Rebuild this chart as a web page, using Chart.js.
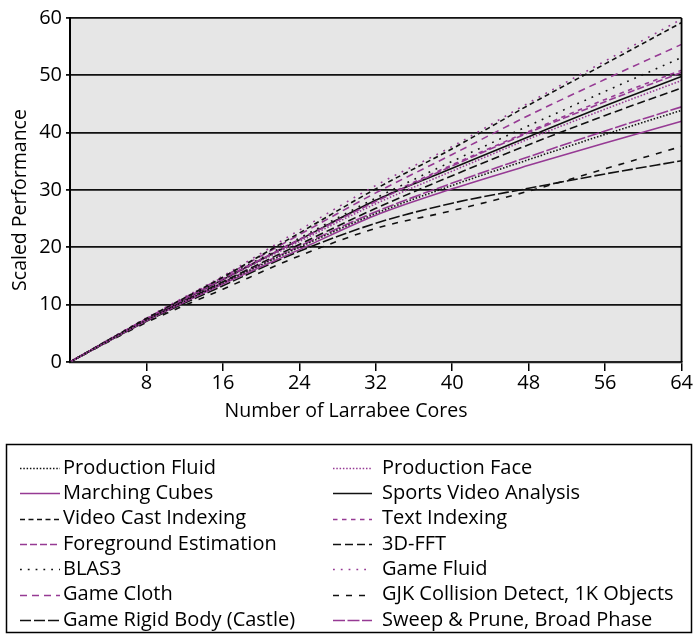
<!DOCTYPE html>
<html><head><meta charset="utf-8">
<script src="https://cdn.jsdelivr.net/npm/chart.js@4.4.0/dist/chart.umd.min.js"></script>
<style>html,body{margin:0;padding:0;background:#fff}#wrap{width:693px;height:638px}</style>
</head><body><div id="wrap"><canvas id="c" width="693" height="638"></canvas></div>
<script>
const cores = [0, 8, 16, 24, 32, 40, 48, 56, 64];
const xTicks = [8, 16, 24, 32, 40, 48, 56, 64];
const yTicks = [0, 10, 20, 30, 40, 50, 60];

const productionFluid      = [0, 7.3, 13.8, 20.0, 25.9, 30.8, 35.3, 39.7, 43.9];
const marchingCubes        = [0, 7.2, 13.6, 19.6, 25.6, 30.2, 34.3, 38.2, 42.0];
const videoCastIndexing    = [0, 7.6, 14.8, 22.5, 30.2, 37.2, 44.8, 52.0, 59.2];
const foregroundEstimation = [0, 7.5, 14.5, 21.3, 28.0, 34.2, 40.0, 45.4, 50.5];
const blas3                = [0, 7.5, 14.6, 21.6, 28.6, 35.0, 41.2, 47.2, 53.1];
const gameCloth            = [0, 7.6, 14.8, 22.2, 29.5, 36.2, 43.0, 49.3, 55.4];
const gameRigidBody        = [0, 7.1, 13.3, 19.3, 24.2, 27.7, 30.3, 32.8, 35.1];
const productionFace       = [0, 7.4, 14.3, 21.0, 27.6, 33.3, 38.9, 44.1, 49.1];
const sportsVideoAnalysis  = [0, 7.4, 14.4, 21.3, 28.2, 33.8, 39.3, 44.7, 49.8];
const textIndexing         = [0, 7.5, 14.5, 21.4, 28.2, 34.4, 40.2, 45.8, 50.9];
const fft3d                = [0, 7.3, 14.0, 20.5, 26.8, 32.5, 37.9, 43.0, 47.8];
const gameFluid            = [0, 7.7, 15.0, 23.0, 30.8, 37.6, 45.2, 52.5, 59.8];
const gjkCollision         = [0, 6.9, 12.7, 18.5, 23.3, 26.4, 29.8, 33.7, 37.6];
const sweepPrune           = [0, 7.3, 13.9, 20.2, 26.2, 31.2, 35.8, 40.3, 44.5];

const seriesNames = [
  'Production Fluid', 'Marching Cubes', 'Video Cast Indexing', 'Foreground Estimation',
  'BLAS3', 'Game Cloth', 'Game Rigid Body (Castle)',
  'Production Face', 'Sports Video Analysis', 'Text Indexing', '3D-FFT',
  'Game Fluid', 'GJK Collision Detect, 1K Objects', 'Sweep & Prune, Broad Phase'
];
const seriesValues = [
  productionFluid, marchingCubes, videoCastIndexing, foregroundEstimation,
  blas3, gameCloth, gameRigidBody,
  productionFace, sportsVideoAnalysis, textIndexing, fft3d,
  gameFluid, gjkCollision, sweepPrune
];

const BLK = '#111111', PUR = '#963a94';
const styles = [
  {c: BLK, d: [1.5, 1.8]},
  {c: PUR, d: []},
  {c: BLK, d: [5, 3.5]},
  {c: PUR, d: [7, 3]},
  {c: BLK, d: [1.8, 6]},
  {c: PUR, d: [7, 5]},
  {c: BLK, d: [11, 3]},
  {c: PUR, d: [1.5, 1.8]},
  {c: BLK, d: []},
  {c: PUR, d: [4.5, 4.5]},
  {c: BLK, d: [8, 4]},
  {c: PUR, d: [1.8, 6]},
  {c: BLK, d: [6, 7]},
  {c: PUR, d: [12, 2.5]}
];

const FONT = '"Open Sans", Lato, sans-serif';

const datasets = seriesNames.map((name, i) => ({
  label: name,
  data: cores.map((x, j) => ({x: x, y: seriesValues[i][j]})),
  borderColor: styles[i].c,
  borderDash: styles[i].d,
  borderWidth: 1.6,
  pointRadius: 0,
  fill: false,
  cubicInterpolationMode: 'monotone'
}));

const frame = {
  id: 'frame',
  beforeDraw(chart) {
    const {ctx, chartArea: a} = chart;
    ctx.save();
    ctx.fillStyle = '#fff';
    ctx.fillRect(0, 0, chart.width, chart.height);
    ctx.fillStyle = '#e6e6e6';
    ctx.fillRect(a.left, a.top, a.right - a.left, a.bottom - a.top);
    ctx.restore();
  },
  afterDraw(chart) {
    const {ctx, chartArea: a} = chart;
    ctx.save();
    ctx.strokeStyle = '#000';
    ctx.lineWidth = 1.8;
    ctx.beginPath();
    ctx.moveTo(a.right, a.top);
    ctx.lineTo(a.right, a.bottom);
    ctx.stroke();
    // axis titles
    ctx.fillStyle = '#000';
    ctx.font = '19.5px ' + FONT;
    ctx.textAlign = 'center';
    ctx.textBaseline = 'middle';
    ctx.fillText('Number of Larrabee Cores', 346, 411);
    ctx.save();
    ctx.translate(20, 200);
    ctx.rotate(-Math.PI / 2);
    ctx.fillText('Scaled Performance', 0, 0);
    ctx.restore();
    // legend
    ctx.textAlign = 'left';
    ctx.font = '20px ' + FONT;
    ctx.lineWidth = 1.5;
    ctx.strokeRect(6.5, 444.5, 685, 188);
    chart.data.datasets.forEach((ds, i) => {
      const col = i < 7 ? 0 : 1;
      const row = i % 7;
      const y = 468 + row * 25.3;
      const x0 = col === 0 ? 20 : 333;
      const x1 = col === 0 ? 60 : 372;
      const tx = col === 0 ? 63 : 382;
      ctx.save();
      ctx.strokeStyle = ds.borderColor;
      ctx.lineWidth = 1.5;
      ctx.setLineDash(ds.borderDash);
      ctx.beginPath();
      ctx.moveTo(x0, Math.round(y) + 0.5);
      ctx.lineTo(x1, Math.round(y) + 0.5);
      ctx.stroke();
      ctx.restore();
      ctx.fillText(ds.label, tx, y);
    });
    ctx.restore();
  }
};

new Chart(document.getElementById('c'), {
  type: 'line',
  data: {datasets},
  options: {
    responsive: false,
    animation: false,
    devicePixelRatio: 1,
    layout: {padding: {top: 18, right: 11, bottom: 214, left: 0}},
    plugins: {legend: {display: false}, tooltip: {enabled: false}},
    scales: {
      x: {
        type: 'linear', min: 0, max: 64,
        afterFit: s => { s.height = 62; },
        afterBuildTicks: s => { s.ticks = [0].concat(xTicks).map(v => ({value: v})); },
        ticks: {
          color: '#000', font: {size: 20, family: FONT}, padding: 0, maxRotation: 0,
          callback: v => v === 0 ? '' : String(v)
        },
        grid: {
          drawOnChartArea: false, drawTicks: true, tickLength: 9, lineWidth: 1.5,
          color: c => (c.tick && c.tick.value === 0) ? 'rgba(0,0,0,0)' : '#000'
        },
        border: {display: true, color: '#222', width: 2.2},
        title: {display: false}
      },
      y: {
        type: 'linear', min: 0, max: 60,
        afterFit: s => { s.width = 70; },
        afterBuildTicks: s => { s.ticks = yTicks.map(v => ({value: v})); },
        ticks: {color: '#000', font: {size: 20, family: FONT}, padding: 4},
        grid: {color: '#111', lineWidth: 1.8, tickLength: 4},
        border: {display: true, color: '#000', width: 2},
        title: {display: false}
      }
    }
  },
  plugins: [frame]
});
</script>
</body></html>
